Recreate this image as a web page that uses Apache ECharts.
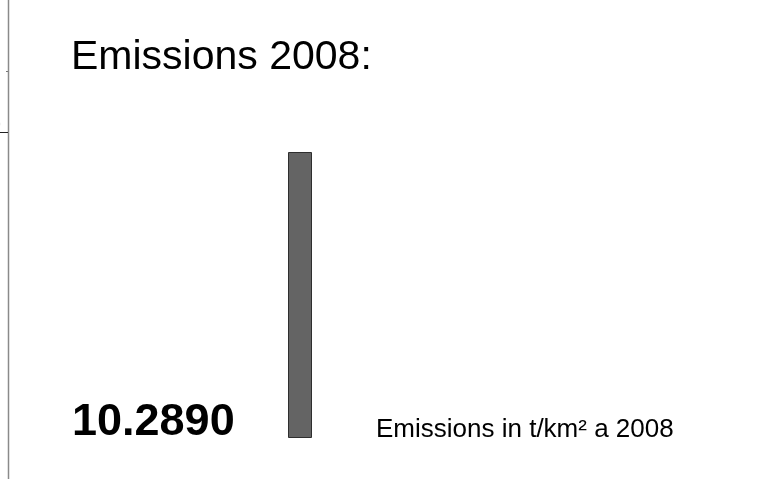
<!DOCTYPE html>
<html>
<head>
<meta charset="utf-8">
<script src="https://cdn.jsdelivr.net/npm/echarts@6/dist/echarts.min.js"></script>
<style>
html,body{margin:0;padding:0;background:#fff;}
#main{width:768px;height:479px;}
</style>
</head>
<body>
<div id="main"></div>
<script>
var titleText = "Emissions 2008:";
var categories = ["2008"];
var seriesName = "Emissions in t/km\u00b2 a 2008";
var values = [10.289];

var chart = echarts.init(document.getElementById('main'), null, {renderer: 'canvas'});
var FONT = '"Liberation Sans", Arial, sans-serif';
chart.setOption({
  animation: false,
  backgroundColor: '#ffffff',
  title: {
    text: titleText,
    left: 71,
    top: 37,
    padding: 0,
    textStyle: {fontFamily: FONT, fontSize: 41, fontWeight: 'normal', color: '#000'}
  },
  legend: {
    data: [seriesName],
    left: 371,
    top: 417,
    padding: 0,
    icon: 'none',
    itemWidth: 0,
    itemHeight: 0,
    itemGap: 0,
    textStyle: {fontFamily: FONT, fontSize: 26, color: '#000'}
  },
  grid: {left: 288, width: 24, top: 152, bottom: 41, containLabel: false},
  xAxis: {type: 'category', data: categories, show: false},
  yAxis: {type: 'value', min: 0, max: values[0], show: false},
  series: [{
    name: seriesName,
    type: 'bar',
    data: values,
    barWidth: '100%',
    itemStyle: {color: '#646464', borderColor: '#2e2e2e', borderWidth: 1},
    label: {
      show: true,
      position: [-216, 271],
      align: 'left',
      verticalAlign: 'middle',
      formatter: function (p) { return p.value.toFixed(4); },
      fontFamily: FONT,
      fontSize: 45,
      fontWeight: 'bold',
      color: '#000'
    }
  }],
  graphic: [
    {type: 'line', shape: {x1: 8.5, y1: 0, x2: 8.5, y2: 479}, style: {stroke: '#8a8a8a', lineWidth: 1.5}, silent: true},
    {type: 'line', shape: {x1: 6, y1: 71.5, x2: 8, y2: 71.5}, style: {stroke: '#777', lineWidth: 1}, silent: true},
    {type: 'line', shape: {x1: 0, y1: 132.5, x2: 8, y2: 132.5}, style: {stroke: '#222', lineWidth: 1}, silent: true},
    {type: 'text', left: -5, top: 120, style: {text: '0', fill: '#aaa', font: '10px ' + FONT}, silent: true}
  ]
});
</script>
</body>
</html>
